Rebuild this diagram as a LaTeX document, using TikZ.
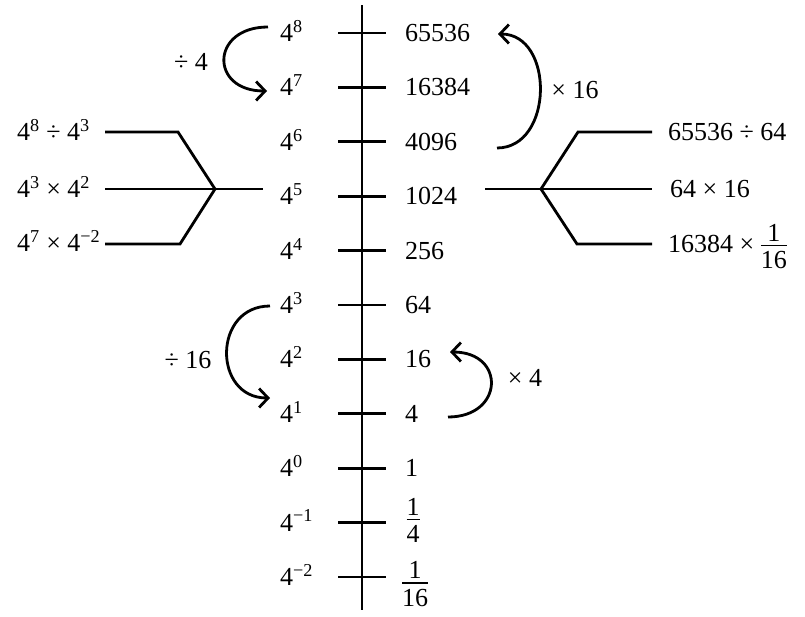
\documentclass[tikz,border=0pt]{standalone}
\usepackage{fontspec}
\setmainfont{Liberation Serif}
\usetikzlibrary{arrows.meta}
\newcommand\myfr[2]{$\vcenter{\offinterlineskip\halign{\hfil##\hfil\cr \mbox{#1}\cr\noalign{\kern3.5pt\hrule height 1.4pt\kern5pt}\mbox{#2}\cr}}$}
\newcommand\pw[1]{4\textsuperscript{#1}}
\begin{document}
\begin{tikzpicture}[x=1pt,y=-1pt,
  every node/.style={font=\fontsize{26}{31}\selectfont, inner sep=0pt},
  axisline/.style={line width=2.9pt},
  tickline/.style={line width=2.9pt},
  brline/.style={line width=2.8pt, line join=miter},
  arcarrow/.style={line width=2.8pt,-{Straight Barb[length=9pt,width=19pt,line width=2.8pt]}}
]
\useasboundingbox[fill=white] (0,0) rectangle (805,616);
% axis
\coordinate (axtop) at (362,5);
\coordinate (axbot) at (362,610);
\draw[axisline] (axtop) -- (axbot);
% ticks and labels
\foreach \e/\v [count=\i from 0] in {8/65536, 7/16384, 6/4096, 5/1024, 4/256, 3/64, 2/16, 1/4, 0/1} {
  \pgfmathsetmacro\yy{33+54.4*\i}
  \coordinate (tl\i) at (338,\yy);
  \coordinate (tr\i) at (386,\yy);
  \draw[tickline] (tl\i) -- (tr\i);
  \node[anchor=base west] (L\i) at (280,\yy+8.5) {\pw{\e}};
  \node[anchor=base west] (R\i) at (405,\yy+8.5) {\v};
}
\coordinate (tl9) at (338,522.6); \coordinate (tr9) at (386,522.6);
\coordinate (tl10) at (338,577); \coordinate (tr10) at (386,577);
\draw[tickline] (tl9) -- (tr9);
\draw[tickline] (tl10) -- (tr10);
\node[anchor=base west] (L9) at (280,531) {\pw{−1}};
\node[anchor=base west] (L10) at (280,585.5) {\pw{−2}};
\node (R9) at (413,520) {\myfr{1}{4}};
\node (R10) at (415,584) {\myfr{1}{16}};
% left bracket
\coordinate (lb1) at (105,132); \coordinate (lb1k) at (178,132);
\coordinate (lb2) at (105,189); \coordinate (lbj) at (215,189); \coordinate (lb2e) at (263,189);
\coordinate (lb3) at (105,244); \coordinate (lb3k) at (180,244);
\draw[brline] (lb1) -- (lb1k) -- (lbj);
\draw[brline] (lb3) -- (lb3k) -- (lbj);
\draw[brline] (lb2) -- (lb2e);
\node[anchor=base west] (LB1) at (17,140.5) {4\textsuperscript{8} ÷ 4\textsuperscript{3}};
\node[anchor=base west] (LB2) at (17,197.5) {4\textsuperscript{3} × 4\textsuperscript{2}};
\node[anchor=base west] (LB3) at (17,251.5) {4\textsuperscript{7} × 4\textsuperscript{−2}};
% right bracket
\coordinate (rb2s) at (485,189); \coordinate (rbj) at (541,189); \coordinate (rb2) at (652,189);
\coordinate (rb1k) at (578,132); \coordinate (rb1) at (652,132);
\coordinate (rb3k) at (577,244); \coordinate (rb3) at (652,244);
\draw[brline] (rb2s) -- (rb2);
\draw[brline] (rbj) -- (rb1k) -- (rb1);
\draw[brline] (rbj) -- (rb3k) -- (rb3);
\node[anchor=base west] (RB1) at (668,140.5) {65536 ÷ 64};
\node[anchor=base west] (RB2) at (670,197.5) {64 × 16};
\node[anchor=base west] (RB3) at (668,252.5) {16384 × \myfr{1}{16}};
% curved arrows
\coordinate (a1s) at (268,27); \coordinate (a1e) at (267,91);
\coordinate (a2s) at (497,148); \coordinate (a2e) at (498,34);
\coordinate (a3s) at (270,306); \coordinate (a3e) at (270,398);
\coordinate (a4s) at (448,417); \coordinate (a4e) at (450,352);
\draw[arcarrow] (a1s) to[out=180,in=180,looseness=2.3] (a1e);
\draw[arcarrow] (a2s) to[out=0,in=0,looseness=1.27] (a2e);
\draw[arcarrow] (a3s) to[out=180,in=180,looseness=1.6] (a3e);
\draw[arcarrow] (a4s) to[out=0,in=0,looseness=2.2] (a4e);
\node (d4) at (191,62) {÷ 4};
\node (m16) at (575,90) {× 16};
\node (d16) at (188,360) {÷ 16};
\node (m4) at (525,378) {× 4};
\end{tikzpicture}
\end{document}
